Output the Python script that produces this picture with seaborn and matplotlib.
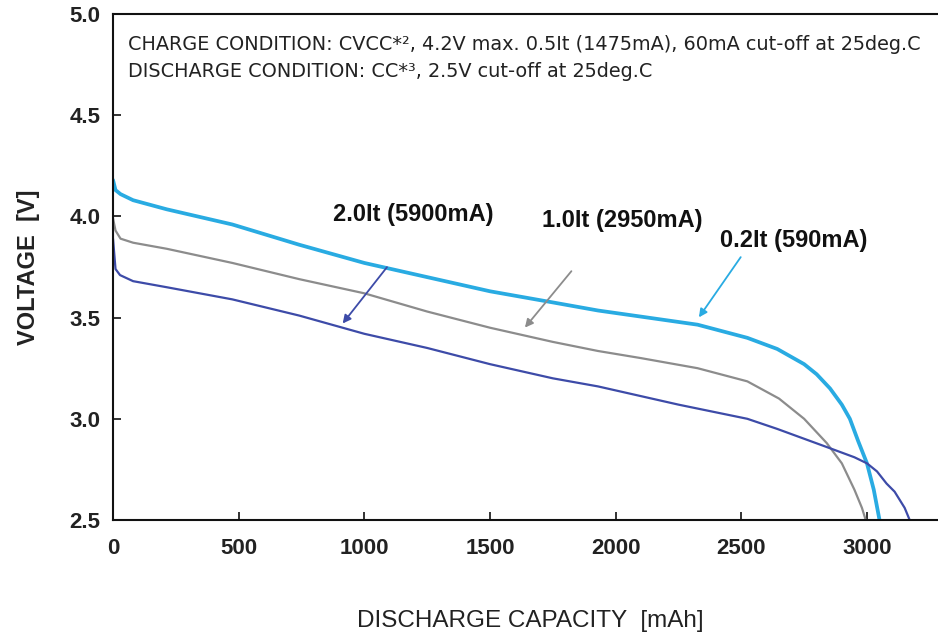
import matplotlib
matplotlib.use("Agg")
import matplotlib.pyplot as plt
import seaborn as sns
import pandas as pd

# ---- data ----
cap_02 = [0, 0, 10, 30, 80, 214, 475, 741, 1000, 1250, 1500, 1750, 1930, 2100, 2326, 2524, 2643,
          2750, 2800, 2853, 2900, 2932, 2965, 3000, 3027, 3050]
volt_02 = [4.18, 4.18, 4.13, 4.11, 4.08, 4.035, 3.96, 3.86, 3.77, 3.70, 3.63, 3.575, 3.535, 3.505, 3.465, 3.40, 3.345,
           3.27, 3.22, 3.15, 3.07, 3.00, 2.89, 2.78, 2.65, 2.50]

cap_10 = [0, 10, 30, 80, 214, 475, 741, 1000, 1250, 1500, 1750, 1930, 2100, 2326, 2524, 2650,
          2750, 2840, 2900, 2950, 2980, 2995]
volt_10 = [3.99, 3.93, 3.89, 3.87, 3.84, 3.77, 3.69, 3.62, 3.53, 3.45, 3.38, 3.335, 3.30, 3.25, 3.185, 3.10,
           3.00, 2.88, 2.78, 2.65, 2.56, 2.50]

cap_20 = [0, 0, 10, 28, 80, 214, 475, 741, 1000, 1250, 1500, 1750, 1930, 2250, 2524, 2643,
          2841, 2950, 3000, 3040, 3078, 3110, 3130, 3150, 3170]
volt_20 = [4.00, 3.78, 3.74, 3.71, 3.68, 3.65, 3.59, 3.51, 3.42, 3.35, 3.27, 3.20, 3.16, 3.07, 3.00, 2.95,
           2.86, 2.81, 2.78, 2.74, 2.68, 2.64, 2.60, 2.56, 2.50]

series_names = ["0.2It (590mA)", "1.0It (2950mA)", "2.0It (5900mA)"]
series_colors = ["#29ABE2", "#8C8C8C", "#3D4BA8"]
x_ticks = [0, 500, 1000, 1500, 2000, 2500, 3000]
y_ticks = [2.5, 3.0, 3.5, 4.0, 4.5, 5.0]
condition_lines = ["CHARGE CONDITION: CVCC*\u00b2, 4.2V max. 0.5It (1475mA), 60mA cut-off at 25deg.C",
                   "DISCHARGE CONDITION: CC*\u00b3, 2.5V cut-off at 25deg.C"]

df = pd.concat([
    pd.DataFrame({"cap": cap_02, "v": volt_02, "s": series_names[0]}),
    pd.DataFrame({"cap": cap_10, "v": volt_10, "s": series_names[1]}),
    pd.DataFrame({"cap": cap_20, "v": volt_20, "s": series_names[2]}),
])

sns.set_style("ticks")
plt.rcParams["font.family"] = ["Liberation Sans", "DejaVu Sans"]

fig = plt.figure(figsize=(9.38, 6.32), dpi=100)
ax = fig.add_axes([113 / 938, 1 - 520 / 632, 1 - 113 / 938 + 0.01, (520 - 14) / 632])

widths = {series_names[0]: 2.7, series_names[1]: 1.6, series_names[2]: 1.6}
for name, col in zip(series_names, series_colors):
    sub = df[df["s"] == name]
    sns.lineplot(data=sub, x="cap", y="v", sort=False, color=col,
                 linewidth=widths[name], ax=ax, legend=False)

ax.set_xlim(0, 3320)
ax.set_ylim(2.5, 5.0)
ax.set_xticks(x_ticks)
ax.set_yticks(y_ticks)
ax.set_yticklabels([f"{t:.1f}" for t in y_ticks])
ax.tick_params(direction="in", length=6, width=1.2, colors="#111111", labelsize=16,
               labelcolor="#222222")
ax.tick_params(axis="x", pad=13)
ax.tick_params(axis="y", pad=9)
for lab in ax.get_xticklabels() + ax.get_yticklabels():
    lab.set_fontweight("bold")
for sp in ["left", "bottom", "top"]:
    ax.spines[sp].set_color("#111111")
    ax.spines[sp].set_linewidth(1.5)
ax.spines["right"].set_visible(False)

ax.set_xlabel("DISCHARGE CAPACITY  [mAh]", fontsize=17.5, color="#222222", labelpad=37)
ax.set_ylabel("VOLTAGE  [V]", fontsize=17, color="#222222", labelpad=21, fontweight="bold")

# condition text
for i, line in enumerate(condition_lines):
    ax.text(0.018, 0.940 - i * 0.054, line, transform=ax.transAxes, fontsize=13.9,
            family=["DejaVu Sans"], color="#222222", va="center")

# labels with arrows
label_pos = {series_names[2]: (1196, 4.01), series_names[1]: (2028, 3.98), series_names[0]: (2710, 3.88)}
arrows = {series_names[2]: ((1097, 3.76), (907, 3.46)),
          series_names[1]: ((1831, 3.74), (1632, 3.44)),
          series_names[0]: ((2504, 3.81), (2325, 3.49))}
for name, col in zip(series_names, series_colors):
    lx, ly = label_pos[name]
    ax.text(lx, ly, name, fontsize=17, fontweight="bold", color="#111111", ha="center", va="center")
    (sx, sy), (ex, ey) = arrows[name]
    ax.annotate("", xy=(ex, ey), xytext=(sx, sy),
                arrowprops=dict(arrowstyle="-|>", color=col, lw=1.3, mutation_scale=12))

fig.savefig("out.png", dpi=100)
